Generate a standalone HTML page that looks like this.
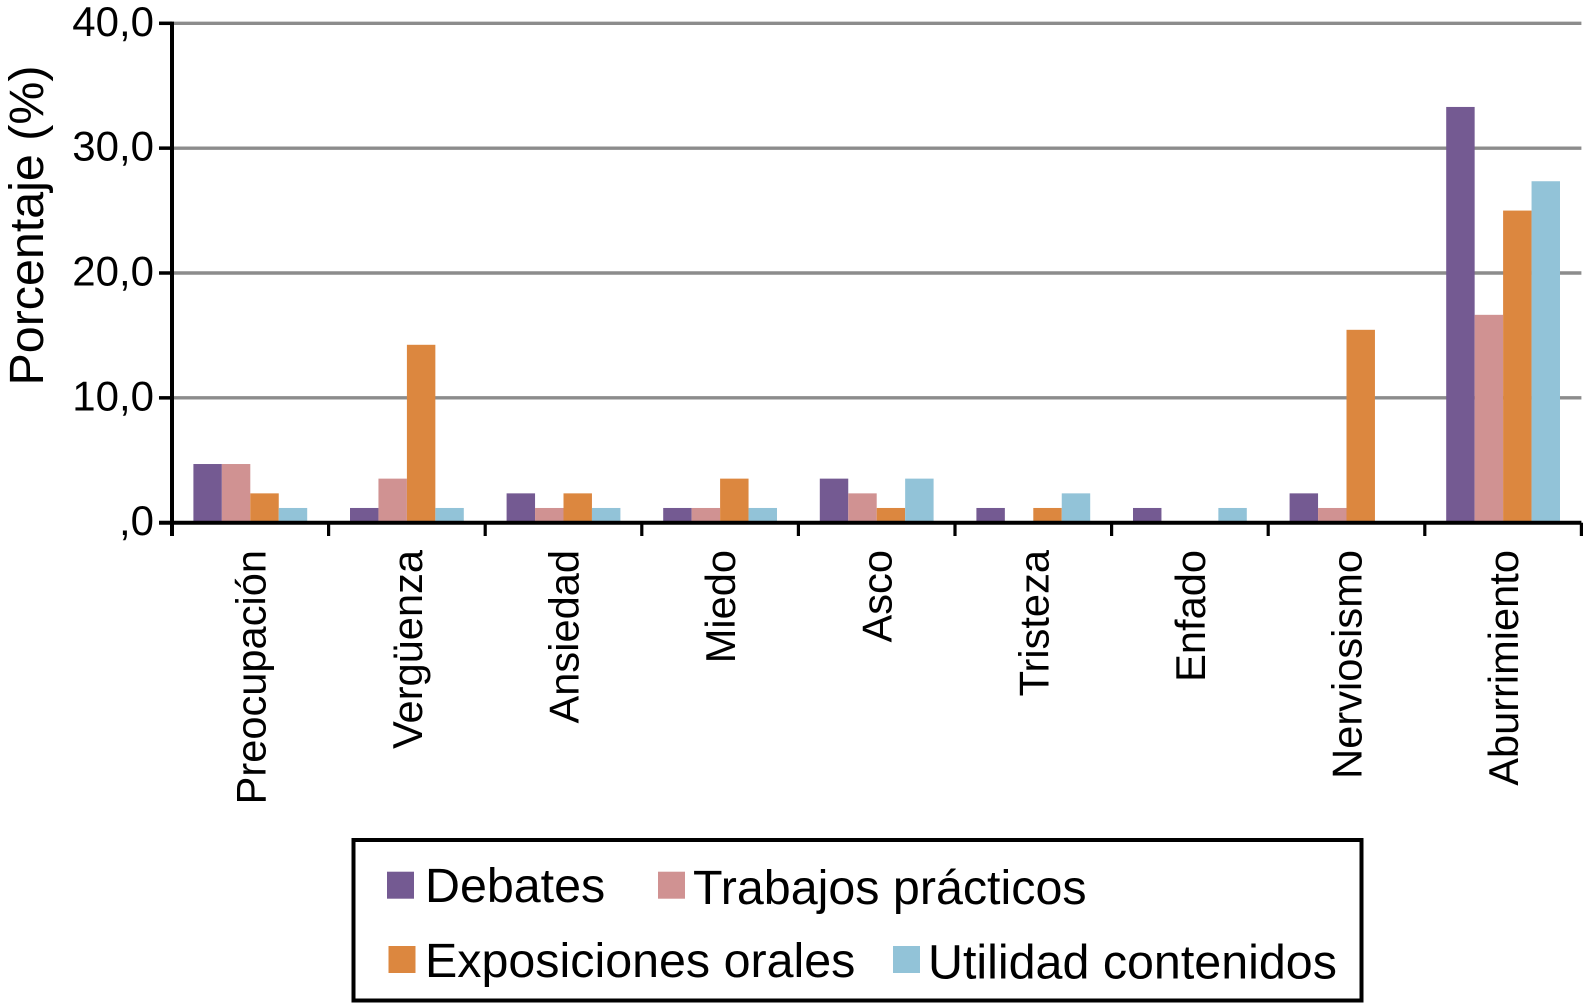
<!DOCTYPE html>
<html lang="es">
<head>
<meta charset="utf-8">
<title>Porcentaje por emoción</title>
<style>
html,body{margin:0;padding:0;background:#fff;width:1583px;height:1003px;overflow:hidden}
svg{display:block;font-family:"Liberation Sans",Arial,sans-serif;fill:#000}
</style>
</head>
<body>
<svg id="chart" xmlns="http://www.w3.org/2000/svg" width="1583" height="1003" viewBox="0 0 1583 1003">
  <text transform="translate(43,385.5) rotate(-90)" font-size="48.4">Porcentaje (%)</text>
  <g id="grid"></g>
  <g id="bars"></g>
  <g id="axes"></g>
  <g>
    <rect x="353.5" y="840" width="1008" height="160.5" fill="#fff" stroke="#000" stroke-width="4"/>
    <g id="legend-items"></g>
  </g>
</svg>
<script>
const categories = ["Preocupación","Vergüenza","Ansiedad","Miedo","Asco","Tristeza","Enfado","Nerviosismo","Aburrimiento"];
const tickValues = [40,30,20,10,0];
const tickLabels = ["40,0","30,0","20,0","10,0",",0"];
const seriesNames = ["Debates","Trabajos prácticos","Exposiciones orales","Utilidad contenidos"];
const debates = [4.7,1.18,2.35,1.18,3.53,1.18,1.18,2.35,33.3];
const trabajos = [4.7,3.53,1.18,1.18,2.35,0,0,1.18,16.65];
const exposiciones = [2.35,14.25,2.35,3.53,1.18,1.18,0,15.45,25.0];
const utilidad = [1.18,1.18,1.18,1.18,3.53,2.35,1.18,0,27.35];
const seriesColors = ["#745a92","#d09292","#dc873f","#92c3d8"];

const NS = "http://www.w3.org/2000/svg";
const x0 = 172, bandW = 156.6, yZero = 522.7, yTop = 23.3, yMax = 40, barW = 28.45, barOffset = 21.4;
const xRight = x0 + bandW * categories.length;
const yScale = v => yZero - (v / yMax) * (yZero - yTop);
const xBand = i => x0 + i * bandW;
const xBar = (i, s) => xBand(i) + barOffset + s * barW;

function make(tag, attrs, parent, text) {
  const el = document.createElementNS(NS, tag);
  for (const k in attrs) el.setAttribute(k, attrs[k]);
  if (text !== undefined) el.textContent = text;
  parent.appendChild(el);
  return el;
}

const grid = document.getElementById("grid");
const axes = document.getElementById("axes");
const barsG = document.getElementById("bars");
const legendG = document.getElementById("legend-items");

tickValues.forEach((v, i) => {
  if (v !== 0) {
    const g = make("line", {x1: x0, x2: xRight, y1: yScale(v), y2: yScale(v), stroke: "#8c8c8c", "stroke-width": 3.4}, grid);
    
    
  }
  const t = make("line", {x1: 159, x2: x0, y1: yScale(v), y2: yScale(v), stroke: "#000", "stroke-width": 3.5}, axes);
  
  
  const l = make("text", {x: 154, y: yScale(v) + 12.5, "text-anchor": "end", "font-size": 42}, axes, tickLabels[i]);
  
  
});

[debates, trabajos, exposiciones, utilidad].forEach((values, s) => {
  values.forEach((v, i) => {
    if (v <= 0) return;
    const b = make("rect", {x: xBar(i, s), y: yScale(v), width: barW, height: yZero - yScale(v), fill: seriesColors[s]}, barsG);
    
    
  });
});

const yAxis = make("line", {x1: x0, x2: x0, y1: yTop - 1.7, y2: 536, stroke: "#000", "stroke-width": 4}, axes);


const xAxis = make("line", {x1: 159, x2: xRight, y1: yZero, y2: yZero, stroke: "#000", "stroke-width": 4}, axes);



categories.forEach((c, i) => {
  const t = make("line", {x1: xBand(i + 1), x2: xBand(i + 1), y1: yZero, y2: 536, stroke: "#000", "stroke-width": 3.2}, axes);
  
  
  const cx = xBand(i) + bandW / 2;
  const l = make("text", {transform: "translate(" + (cx + 15) + ",550) rotate(-90)", "text-anchor": "end", "font-size": 41.6}, axes, c);
  
  
});

const legendSwatchX = [387, 658, 388.5, 893];
const legendSwatchY = [871.7, 871.7, 946, 946];
const legendTextX = [425, 693, 425, 928];
const legendTextY = [902, 904, 977, 978.5];
seriesNames.forEach((name, s) => {
  const sw = make("rect", {x: legendSwatchX[s], y: legendSwatchY[s], width: 27, height: 27, fill: seriesColors[s]}, legendG);
  
  
  const tx = make("text", {x: legendTextX[s], y: legendTextY[s], "font-size": 48.4}, legendG, name);
  
  
});
</script>
</body>
</html>
